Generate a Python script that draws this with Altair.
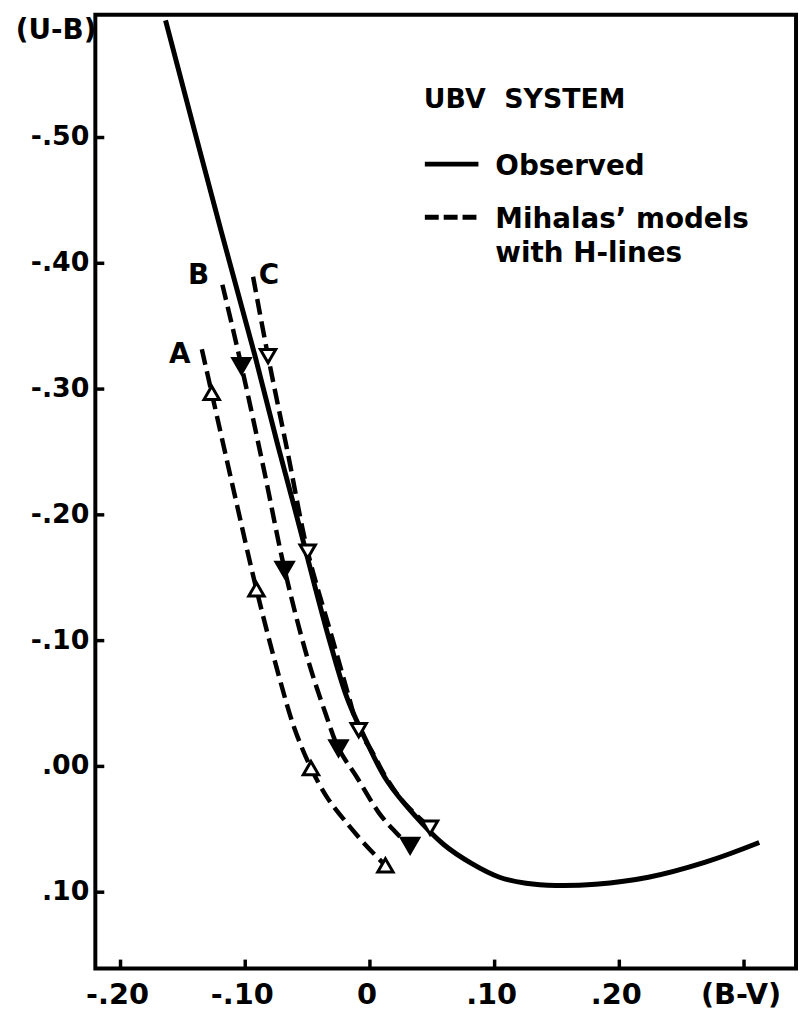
import altair as alt
import pandas as pd

FONT = "DejaVu Sans"

# Observed UBV sequence (B-V, U-B)
obs_bv = [-0.1639, -0.1191, -0.0921, -0.0738, -0.0579, -0.0435, -0.0316, -0.0181, -0.0021, 0.0138,
          0.0361, 0.0589, 0.0814, 0.1039, 0.1252, 0.1491, 0.1809, 0.2233, 0.2684, 0.3122]
obs_ub = [-0.5931, -0.4248, -0.3262, -0.2551, -0.1959, -0.1407, -0.0973, -0.0539, -0.0184, 0.0116,
          0.0392, 0.0619, 0.0771, 0.0881, 0.0929, 0.0947, 0.0937, 0.0881, 0.0763, 0.0605]

# Mihalas' models with H-lines (dashed curves)
a_bv = [-0.1348, -0.1269, -0.1093, -0.0910, -0.0724, -0.0605, -0.0473, -0.0341, -0.0207, -0.0031, 0.0124]
a_ub = [-0.3317, -0.2970, -0.2196, -0.1407, -0.0697, -0.0302, 0.0013, 0.0250, 0.0424, 0.0629, 0.0787]
b_bv = [-0.1183, -0.1030, -0.0849, -0.0684, -0.0499, -0.0356, -0.0252, -0.0101, 0.0072, 0.0201, 0.0329]
b_ub = [-0.3830, -0.3183, -0.2354, -0.1565, -0.0855, -0.0421, -0.0144, 0.0092, 0.0369, 0.0518, 0.0645]
c_bv = [-0.0937, -0.0817, -0.0658, -0.0499, -0.0300, -0.0165, -0.0090, 0.0010, 0.0118, 0.0241, 0.0353, 0.0482]
c_ub = [-0.3893, -0.3262, -0.2488, -0.1707, -0.1012, -0.0539, -0.0289, -0.0129, 0.0069, 0.0250, 0.0369, 0.0487]

# Marker points on the model curves
a_pt_bv = [-0.1269, -0.0910, -0.0473, 0.0124]
a_pt_ub = [-0.2970, -0.1407, 0.0013, 0.0787]
b_pt_bv = [-0.1030, -0.0684, -0.0252, 0.0322]
b_pt_ub = [-0.3183, -0.1565, -0.0144, 0.0630]
c_pt_bv = [-0.0817, -0.0499, -0.0090, 0.0482]
c_pt_ub = [-0.3262, -0.1707, -0.0289, 0.0487]

# Curve labels
curve_labels = ["A", "B", "C"]
curve_label_bv = [-0.1526, -0.1374, -0.0809]
curve_label_ub = [-0.327, -0.390, -0.390]

# Axis ticks
x_ticks = [-0.2, -0.1, 0.0, 0.1, 0.2, 0.3]
x_tick_labels = ["-.20", "-.10", "0", ".10", ".20", "(B-V)"]
y_ticks = [-0.5, -0.4, -0.3, -0.2, -0.1, 0.0, 0.1]
y_tick_labels = ["-.50", "-.40", "-.30", "-.20", "-.10", ".00", ".10"]

W, H = 706, 961
xs = alt.Scale(domain=[-0.2202, 0.3417], nice=False, zero=False)
ys = alt.Scale(domain=[-0.5976, 0.1607], nice=False, zero=False, reverse=True)
TXT = dict(font=FONT, fontWeight="bold", color="black")


def curve(bv, ub, dash=None, width=4.5):
    df = pd.DataFrame({"bv": bv, "ub": ub, "i": range(len(bv))})
    kw = dict(color="black", strokeWidth=width, interpolate="catmull-rom", strokeCap="butt")
    if dash:
        kw["strokeDash"] = dash
    return alt.Chart(df).mark_line(**kw).encode(
        x=alt.X("bv:Q", scale=xs, axis=None),
        y=alt.Y("ub:Q", scale=ys, axis=None),
        order="i:Q",
    )


def points(bv, ub, shape, filled):
    df = pd.DataFrame({"bv": bv, "ub": ub})
    return alt.Chart(df).mark_point(
        shape=shape,
        size=300 if filled else 240,
        filled=True,
        fill="black" if filled else "white",
        stroke="black",
        strokeWidth=3,
        opacity=1,
    ).encode(
        x=alt.X("bv:Q", scale=xs, axis=None),
        y=alt.Y("ub:Q", scale=ys, axis=None),
    )


observed = curve(obs_bv, obs_ub, width=5)
ca = curve(a_bv, a_ub, dash=[16, 7])
cb = curve(b_bv, b_ub, dash=[16, 7])
cc = curve(c_bv, c_ub, dash=[16, 7])

pa = points(a_pt_bv, a_pt_ub, "triangle-up", False)
pb = points(b_pt_bv, b_pt_ub, "triangle-down", True)
pc = points(c_pt_bv, c_pt_ub, "triangle-down", False)

lab_df = pd.DataFrame({"bv": curve_label_bv, "ub": curve_label_ub, "t": curve_labels})
labels = alt.Chart(lab_df).mark_text(fontSize=28, align="center", baseline="middle", **TXT).encode(
    x=alt.X("bv:Q", scale=xs, axis=None),
    y=alt.Y("ub:Q", scale=ys, axis=None),
    text="t:N",
)

# inward ticks
xt_df = pd.DataFrame({"v": x_ticks, "t": x_tick_labels})
yt_df = pd.DataFrame({"v": y_ticks, "t": y_tick_labels})
xticks = alt.Chart(xt_df).mark_rule(color="black", strokeWidth=3.5).encode(
    x=alt.X("v:Q", scale=xs, axis=None), y=alt.value(H), y2=alt.value(H - 9)
)
yticks = alt.Chart(yt_df).mark_rule(color="black", strokeWidth=3.5).encode(
    y=alt.Y("v:Q", scale=ys, axis=None), x=alt.value(0), x2=alt.value(9)
)
xlabels = alt.Chart(xt_df).mark_text(fontSize=29, align="center", baseline="alphabetic", dx=-3, **TXT).encode(
    x=alt.X("v:Q", scale=xs, axis=None), y=alt.value(H + 36), text="t:N"
)
ylabels = alt.Chart(yt_df).mark_text(fontSize=27, align="right", baseline="middle", **TXT).encode(
    y=alt.Y("v:Q", scale=ys, axis=None), x=alt.value(-6), text="t:N"
)
ytitle = alt.Chart(pd.DataFrame({"t": ["(U-B)"]})).mark_text(
    fontSize=28, align="right", baseline="middle", **TXT
).encode(x=alt.value(1), y=alt.value(16), text="t:N")

# legend
leg_title = alt.Chart(pd.DataFrame({"t": ["UBV\u00a0\u00a0SYSTEM"]})).mark_text(
    fontSize=27, align="left", baseline="alphabetic", **TXT
).encode(x=alt.value(331), y=alt.value(94), text="t:N")
leg_solid = alt.Chart(pd.DataFrame({"a": [0]})).mark_rule(color="black", strokeWidth=5).encode(
    x=alt.value(332), x2=alt.value(386), y=alt.value(150.5)
)
leg_dash = alt.Chart(pd.DataFrame({"a": [0]})).mark_rule(
    color="black", strokeWidth=5, strokeDash=[14, 5]
).encode(x=alt.value(332), x2=alt.value(384), y=alt.value(204))
leg_t1 = alt.Chart(pd.DataFrame({"t": ["Observed"]})).mark_text(
    fontSize=28, align="left", baseline="alphabetic", **TXT
).encode(x=alt.value(403), y=alt.value(161), text="t:N")
leg_t2 = alt.Chart(pd.DataFrame({"t": ["Mihalas\u2019 models"]})).mark_text(
    fontSize=28, align="left", baseline="alphabetic", **TXT
).encode(x=alt.value(403), y=alt.value(215), text="t:N")
leg_t3 = alt.Chart(pd.DataFrame({"t": ["with H-lines"]})).mark_text(
    fontSize=28, align="left", baseline="alphabetic", **TXT
).encode(x=alt.value(403), y=alt.value(249), text="t:N")

chart = alt.layer(
    xticks, yticks, xlabels, ylabels, ytitle,
    ca, cb, cc, observed, pa, pb, pc, labels,
    leg_title, leg_solid, leg_dash, leg_t1, leg_t2, leg_t3,
).properties(
    width=W, height=H,
    autosize=alt.AutoSizeParams(type="none"),
    padding={"left": 88, "top": 3, "right": 4, "bottom": 42},
).configure(
    background="white",
    view=alt.ViewConfig(stroke="black", strokeWidth=4),
)

chart.save("out.html", embed_options={"renderer": "svg", "actions": False})
